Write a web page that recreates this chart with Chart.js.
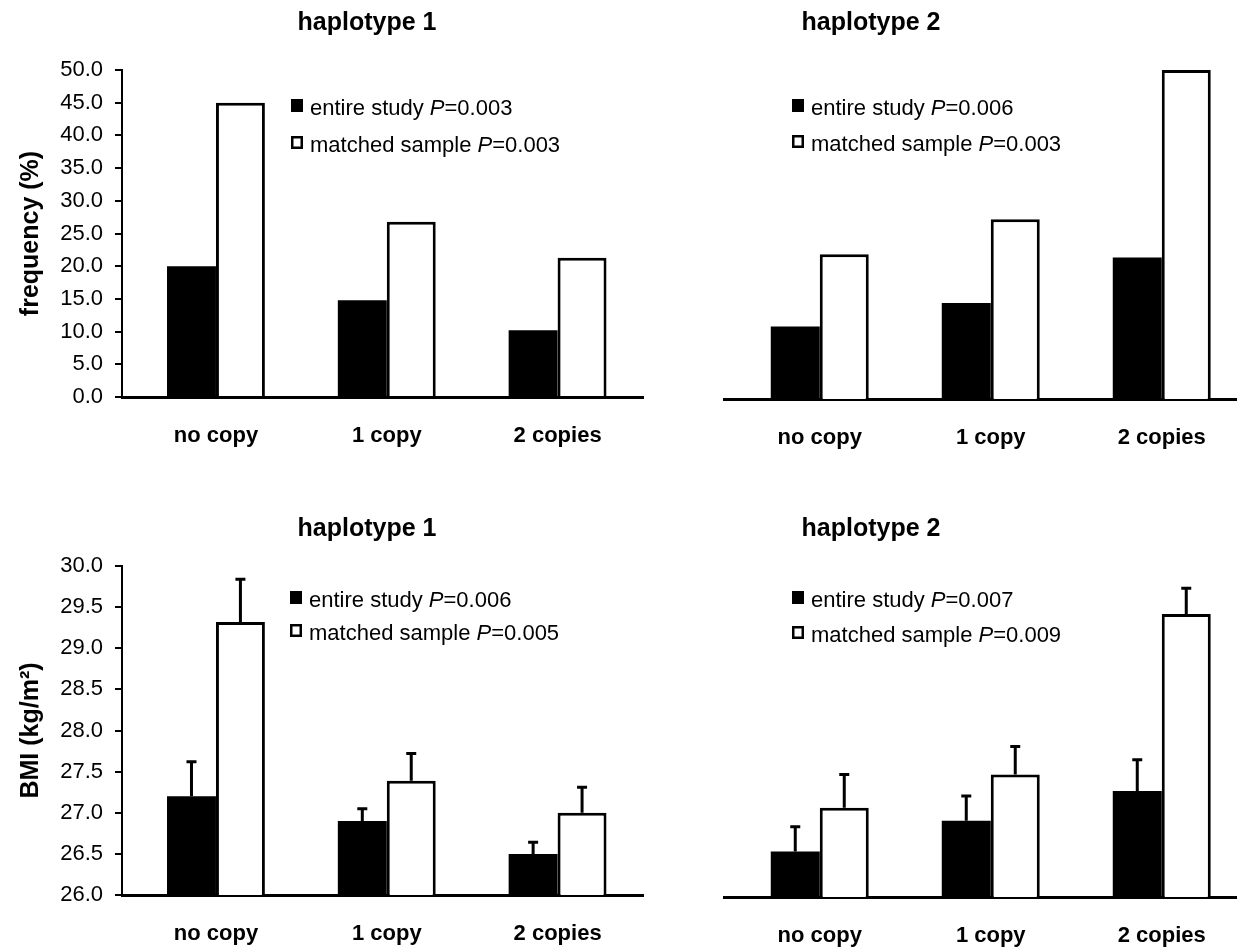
<!DOCTYPE html>
<html>
<head>
<meta charset="utf-8">
<title>haplotype frequency and BMI</title>
<script src="https://cdn.jsdelivr.net/npm/chart.js@4.4.1/dist/chart.umd.min.js"></script>
<style>
  html, body { margin: 0; padding: 0; background: #fff; overflow: hidden; }
  #page { position: relative; width: 1237px; height: 948px; }
  canvas { position: absolute; }
</style>
</head>
<body>
<div id="page">
  <canvas id="freq1" width="660" height="470" style="left:0;top:0"></canvas>
  <canvas id="freq2" width="633" height="470" style="left:604px;top:0"></canvas>
  <canvas id="bmi1" width="660" height="451" style="left:0;top:497px"></canvas>
  <canvas id="bmi2" width="633" height="451" style="left:604px;top:497px"></canvas>
</div>
<script>
// categories
const copies = ['no copy', '1 copy', '2 copies'];

// top row: frequency (%)
const freqH1Entire = [20.0, 14.8, 10.2];
const freqH1Matched = [45.0, 26.8, 21.3];
const freqH2Entire = [11.0, 14.6, 21.5];
const freqH2Matched = [22.0, 27.3, 50.0];

// bottom row: BMI (kg/m2), bar height and top of the error bar
const bmiH1Entire = [27.2, 26.9, 26.5];
const bmiH1EntireUpper = [27.62, 27.05, 26.64];
const bmiH1Matched = [29.32, 27.39, 27.0];
const bmiH1MatchedUpper = [29.84, 27.72, 27.31];
const bmiH2Entire = [26.55, 26.92, 27.28];
const bmiH2EntireUpper = [26.85, 27.22, 27.66];
const bmiH2Matched = [27.08, 27.48, 29.42];
const bmiH2MatchedUpper = [27.48, 27.82, 29.73];

// P values in the legends (entire study, matched sample)
const freqH1P = ['0.003', '0.003'];
const freqH2P = ['0.006', '0.003'];
const bmiH1P = ['0.006', '0.005'];
const bmiH2P = ['0.007', '0.009'];

// y axis ticks: min, max, step
const freqTicks = [0, 50, 5];
const bmiTicks = [26, 30, 0.5];

const FONT = '"Liberation Sans", Arial, Helvetica, sans-serif';
Chart.defaults.font.family = FONT;
Chart.defaults.color = '#000';

// titles and legend with italic P
const panelText = {
  id: 'panelText',
  afterDraw(chart, args, opts) {
    const ctx = chart.ctx;
    ctx.save();
    ctx.fillStyle = '#000';
    ctx.textBaseline = 'alphabetic';
    ctx.textAlign = 'center';
    ctx.font = 'bold 25px ' + FONT;
    ctx.fillText(opts.title, opts.titleX, opts.titleY);

    ctx.textAlign = 'left';
    chart.data.datasets.forEach((ds, i) => {
      const base = opts.legendY[i];
      const x = opts.legendX;
      if (ds.backgroundColor === '#000') {
        ctx.fillStyle = '#000';
        ctx.fillRect(x, base - 16, 12, 13);
      } else {
        ctx.fillStyle = '#fff';
        ctx.fillRect(x, base - 16, 12, 13);
        ctx.strokeStyle = '#000';
        ctx.lineWidth = 2.5;
        ctx.strokeRect(x + 1.25, base - 14.75, 9.5, 10.5);
      }
      ctx.fillStyle = '#000';
      let tx = x + 19;
      const parts = [
        ['', ds.label + ' '],
        ['italic ', 'P'],
        ['', '=' + opts.p[i]]
      ];
      parts.forEach(([style, txt]) => {
        ctx.font = style + '22px ' + FONT;
        ctx.fillText(txt, tx, base);
        tx += ctx.measureText(txt).width;
      });
    });
    ctx.restore();
  }
};

// upward error bars
const errorBars = {
  id: 'errorBars',
  afterDatasetsDraw(chart) {
    const ctx = chart.ctx;
    const yScale = chart.scales.y;
    ctx.save();
    ctx.strokeStyle = '#000';
    ctx.lineWidth = 3;
    chart.data.datasets.forEach((ds, di) => {
      if (!ds.upper) return;
      chart.getDatasetMeta(di).data.forEach((bar, i) => {
        const yTop = yScale.getPixelForValue(ds.upper[i]);
        ctx.beginPath();
        ctx.moveTo(bar.x, bar.y);
        ctx.lineTo(bar.x, yTop);
        ctx.moveTo(bar.x - 5, yTop);
        ctx.lineTo(bar.x + 5, yTop);
        ctx.stroke();
      });
    });
    ctx.restore();
  }
};

function makePanel(id, cfg) {
  const points = arr => arr.map((v, i) => ({ x: i, y: v }));
  const left = cfg.showY;
  return new Chart(document.getElementById(id), {
    type: 'bar',
    data: {
      datasets: [{
        label: 'entire study',
        data: points(cfg.entire),
        upper: cfg.entireUpper,
        backgroundColor: '#000',
        borderWidth: 0,
        categoryPercentage: 0.573,
        barPercentage: 1,
        clip: { left: 5, right: 5, top: 5, bottom: 0 }
      }, {
        label: 'matched sample',
        data: points(cfg.matched),
        upper: cfg.matchedUpper,
        backgroundColor: '#fff',
        borderColor: '#000',
        borderWidth: 3,
        categoryPercentage: 0.573,
        barPercentage: 1,
        clip: { left: 5, right: 5, top: 5, bottom: 0 }
      }]
    },
    options: {
      responsive: false,
      animation: false,
      events: [],
      layout: { padding: cfg.padding },
      scales: {
        x: {
          type: 'linear',
          min: cfg.xMin,
          max: cfg.xMax,
          offset: false,
          bounds: 'data',
          z: 1,
          grid: { display: false, drawTicks: false, offset: false },
          border: { display: true, color: '#000', width: 3 },
          afterBuildTicks: s => { s.ticks = copies.map((c, i) => ({ value: i })); },
          afterFit: s => { s.height = cfg.xHeight; s.paddingLeft = 0; s.paddingRight = 0; },
          ticks: {
            padding: 26,
            font: { size: 22, weight: 'bold' },
            callback: v => copies[v]
          }
        },
        y: {
          display: left,
          min: cfg.yTicks[0],
          max: cfg.yTicks[1],
          z: 1,
          afterFit: s => { s.width = left ? 122 : 0; },
          grid: { drawOnChartArea: false, drawTicks: true, tickLength: 7, color: '#000', lineWidth: 2 },
          border: { display: true, color: '#000', width: 2 },
          ticks: {
            stepSize: cfg.yTicks[2],
            padding: 12,
            font: { size: 22 },
            callback: v => v.toFixed(1)
          },
          title: {
            display: left,
            text: cfg.yTitle,
            font: { size: 25, weight: 'bold' },
            padding: { top: 16, bottom: 0 }
          }
        }
      },
      plugins: {
        legend: { display: false },
        tooltip: { enabled: false },
        panelText: {
          title: cfg.title,
          titleX: cfg.titleX,
          titleY: cfg.titleY,
          legendX: cfg.legendX,
          legendY: cfg.legendY,
          p: cfg.p
        }
      }
    },
    plugins: [panelText, errorBars]
  });
}

makePanel('freq1', {
  title: 'haplotype 1', titleX: 367, titleY: 30,
  entire: freqH1Entire, matched: freqH1Matched, p: freqH1P,
  legendX: 291, legendY: [115, 152],
  showY: true, yTitle: 'frequency (%)', yTicks: freqTicks,
  xMin: -0.55, xMax: 2.5, xHeight: 73,
  padding: { left: 0, right: 17, top: 70, bottom: 0 }
});

makePanel('freq2', {
  title: 'haplotype 2', titleX: 267, titleY: 30,
  entire: freqH2Entire, matched: freqH2Matched, p: freqH2P,
  legendX: 188, legendY: [115, 151],
  showY: false, yTicks: freqTicks,
  xMin: -0.56, xMax: 2.44, xHeight: 71,
  padding: { left: 120, right: 0, top: 70, bottom: 0 }
});

makePanel('bmi1', {
  title: 'haplotype 1', titleX: 367, titleY: 39,
  entire: bmiH1Entire, entireUpper: bmiH1EntireUpper,
  matched: bmiH1Matched, matchedUpper: bmiH1MatchedUpper, p: bmiH1P,
  legendX: 290, legendY: [110, 143],
  showY: true, yTitle: 'BMI (kg/m²)', yTicks: bmiTicks,
  xMin: -0.55, xMax: 2.5, xHeight: 53,
  padding: { left: 0, right: 17, top: 69, bottom: 0 }
});

makePanel('bmi2', {
  title: 'haplotype 2', titleX: 267, titleY: 39,
  entire: bmiH2Entire, entireUpper: bmiH2EntireUpper,
  matched: bmiH2Matched, matchedUpper: bmiH2MatchedUpper, p: bmiH2P,
  legendX: 188, legendY: [110, 145],
  showY: false, yTicks: bmiTicks,
  xMin: -0.56, xMax: 2.44, xHeight: 51,
  padding: { left: 120, right: 0, top: 69, bottom: 0 }
});
</script>
</body>
</html>
